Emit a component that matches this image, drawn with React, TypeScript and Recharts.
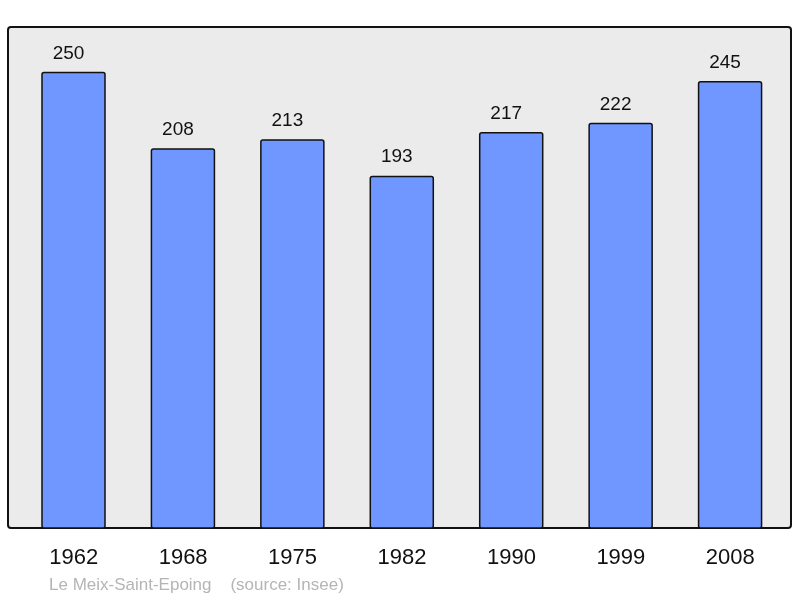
import { BarChart, Bar, XAxis, YAxis, LabelList } from "recharts";

const years = ["1962", "1968", "1975", "1982", "1990", "1999", "2008"];
const population = [250, 208, 213, 193, 217, 222, 245];

const data = years.map((year, i) => ({ year, value: population[i] }));

const FONT = "'Liberation Sans', Arial, sans-serif";

const ValueLabel = (props: any) => {
  const { x, y, width, value } = props;
  return (
    <text
      x={x + width / 2 - 5}
      y={y - 14}
      textAnchor="middle"
      fill="#111"
      fontSize={19}
      fontFamily={FONT}
    >
      {value}
    </text>
  );
};

export default function App() {
  return (
    <div
      style={{
        position: "fixed",
        left: 0,
        top: 0,
        width: 800,
        height: 598,
        fontFamily: FONT,
      }}
    >
      {/* plot frame */}
      <div
        style={{
          position: "absolute",
          left: 7,
          top: 26,
          width: 785,
          height: 503,
          background: "#ebebeb",
          border: "2px solid #111",
          borderRadius: 4,
          boxSizing: "border-box",
        }}
      />
      <div style={{ position: "absolute", left: 0, top: 0 }}>
        <BarChart
          width={800}
          height={598}
          data={data}
          margin={{ top: 27, right: 9, left: 9, bottom: 0 }}
        >
          <XAxis
            dataKey="year"
            height={70}
            axisLine={false}
            tickLine={false}
            tickSize={0}
            tickMargin={20}
            padding={{ left: 10, right: 6 }}
            tick={{ fill: "#111", fontSize: 22, fontFamily: FONT }}
          />
          <YAxis hide domain={[0, 275]} />
          <Bar
            dataKey="value"
            fill="#6f97ff"
            stroke="#111"
            strokeWidth={1.5}
            barSize={63}
            radius={2}
            isAnimationActive={false}
          >
            <LabelList dataKey="value" content={ValueLabel} />
          </Bar>
        </BarChart>
      </div>
      <div
        style={{
          position: "absolute",
          left: 49,
          top: 576,
          fontSize: 17,
          lineHeight: "17px",
          color: "#b5b5b5",
          whiteSpace: "pre",
        }}
      >
        {"Le Meix-Saint-Epoing    (source: Insee)"}
      </div>
    </div>
  );
}
